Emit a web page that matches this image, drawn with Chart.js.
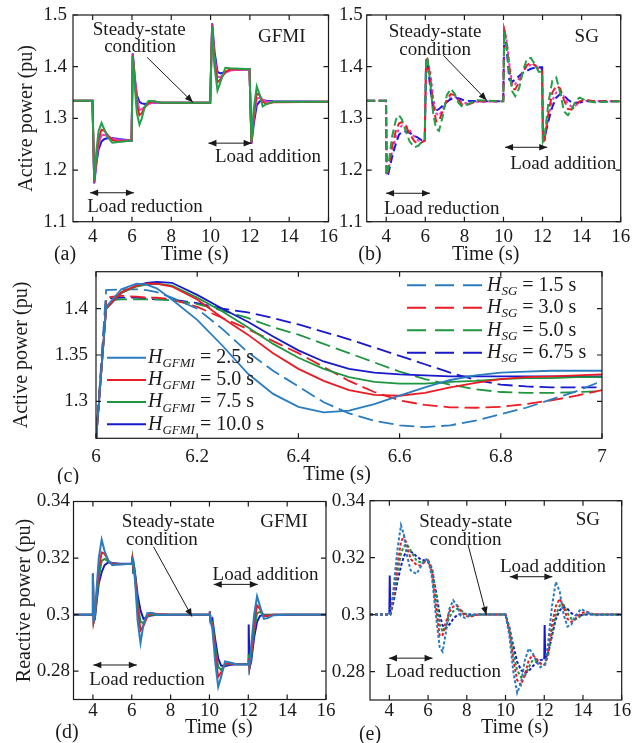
<!DOCTYPE html>
<html>
<head>
<meta charset="utf-8">
<script src="https://cdn.jsdelivr.net/npm/chart.js@4/dist/chart.umd.min.js"></script>
<style>
html, body { margin: 0; padding: 0; background: #fff; }
#page { position: relative; width: 641px; height: 743px; overflow: hidden; background: #fff; }
canvas { position: absolute; }
</style>
</head>
<body>
<div id="page">
  <canvas id="pa" width="345" height="268" style="left:0px;top:0px"></canvas>
  <canvas id="pb" width="321" height="268" style="left:320px;top:0px"></canvas>
  <canvas id="pc" width="641" height="222" style="left:0px;top:262px"></canvas>
  <canvas id="pd" width="345" height="259" style="left:0px;top:484px"></canvas>
  <canvas id="pe" width="321" height="259" style="left:320px;top:484px"></canvas>
</div>
<script>
'use strict';

// ---- tick labels ----
const timeTicks = [4, 6, 8, 10, 12, 14, 16];
const zoomTicks = [6, 6.2, 6.4, 6.6, 6.8, 7];
const activeTicks = [1.1, 1.2, 1.3, 1.4, 1.5];
const zoomActiveTicks = [1.3, 1.35, 1.4];
const reactiveTicks = [0.28, 0.3, 0.32, 0.34];

// ---- (a) GFMI active power ----
const timeA = [3, 3.99, 4.08, 4.2, 4.3, 4.45, 4.6, 4.8, 5.0, 5.3, 5.98, 6.04, 6.15, 6.25, 6.38, 6.5, 6.65, 6.85, 7.1, 7.5,
  9.98, 10.08, 10.2, 10.35, 10.5, 10.75, 11.0, 11.98, 12.08, 12.2, 12.35, 12.5, 12.65, 12.85, 13.2, 16];
const aGreen = [1.334, 1.334, 1.18, 1.24, 1.275, 1.291, 1.278, 1.262, 1.253, 1.254, 1.257, 1.42, 1.36, 1.31, 1.288, 1.30, 1.322, 1.334, 1.333, 1.33,
  1.33, 1.478, 1.40, 1.354, 1.37, 1.398, 1.397, 1.395, 1.255, 1.32, 1.362, 1.345, 1.323, 1.328, 1.332, 1.332];
const aRed = [1.334, 1.334, 1.178, 1.23, 1.26, 1.278, 1.276, 1.266, 1.258, 1.255, 1.257, 1.422, 1.37, 1.325, 1.306, 1.31, 1.322, 1.33, 1.333, 1.33,
  1.33, 1.48, 1.41, 1.37, 1.375, 1.39, 1.395, 1.395, 1.253, 1.31, 1.348, 1.345, 1.332, 1.328, 1.331, 1.332];
const aMagenta = [1.334, 1.334, 1.176, 1.22, 1.25, 1.267, 1.268, 1.264, 1.261, 1.258, 1.257, 1.424, 1.38, 1.34, 1.316, 1.318, 1.322, 1.328, 1.33, 1.33,
  1.33, 1.482, 1.42, 1.38, 1.38, 1.388, 1.393, 1.395, 1.252, 1.30, 1.338, 1.34, 1.336, 1.332, 1.332, 1.332];
const aBlue = [1.334, 1.334, 1.174, 1.215, 1.24, 1.255, 1.26, 1.262, 1.262, 1.26, 1.257, 1.426, 1.375, 1.345, 1.332, 1.329, 1.328, 1.329, 1.33, 1.33,
  1.33, 1.484, 1.43, 1.39, 1.387, 1.39, 1.393, 1.395, 1.251, 1.29, 1.325, 1.333, 1.335, 1.334, 1.333, 1.332];

// ---- (b) SG active power ----
const timeB = [3, 3.99, 4.02, 4.1, 4.3, 4.5, 4.65, 4.8, 5.0, 5.2, 5.45, 5.65, 5.8, 5.97,
  6.04, 6.1, 6.25, 6.4, 6.55, 6.7, 6.9, 7.1, 7.3, 7.5, 7.7, 7.9, 8.2, 8.6,
  9.99, 10.04, 10.15, 10.3, 10.45, 10.6, 10.8, 11.0, 11.2, 11.4, 11.6, 11.8, 11.98,
  12.02, 12.1, 12.3, 12.5, 12.7, 12.9, 13.1, 13.3, 13.5, 13.7, 13.9, 14.2, 14.6, 16];
const bGreen = [1.334, 1.334, 1.19, 1.205, 1.265, 1.298, 1.306, 1.298, 1.275, 1.255, 1.244, 1.247, 1.254, 1.26,
  1.415, 1.418, 1.37, 1.31, 1.28, 1.276, 1.305, 1.345, 1.357, 1.348, 1.33, 1.322, 1.328, 1.335,
  1.333, 1.468, 1.44, 1.39, 1.352, 1.343, 1.358, 1.392, 1.415, 1.417, 1.405, 1.39, 1.39,
  1.256, 1.265, 1.33, 1.373, 1.379, 1.35, 1.313, 1.306, 1.318, 1.335, 1.34, 1.335, 1.331, 1.333];
const bRed = [1.334, 1.334, 1.19, 1.2, 1.245, 1.278, 1.29, 1.293, 1.285, 1.27, 1.255, 1.251, 1.253, 1.257,
  1.413, 1.415, 1.38, 1.33, 1.294, 1.295, 1.315, 1.336, 1.347, 1.345, 1.335, 1.326, 1.327, 1.333,
  1.333, 1.47, 1.45, 1.4, 1.357, 1.356, 1.37, 1.39, 1.403, 1.408, 1.403, 1.395, 1.393,
  1.254, 1.258, 1.31, 1.35, 1.363, 1.358, 1.335, 1.318, 1.317, 1.325, 1.333, 1.336, 1.333, 1.333];
const bMagenta = [1.334, 1.334, 1.19, 1.197, 1.235, 1.265, 1.28, 1.286, 1.286, 1.277, 1.264, 1.257, 1.256, 1.257,
  1.412, 1.414, 1.39, 1.34, 1.31, 1.305, 1.318, 1.332, 1.34, 1.342, 1.337, 1.33, 1.329, 1.332,
  1.333, 1.471, 1.455, 1.405, 1.365, 1.366, 1.378, 1.392, 1.4, 1.403, 1.403, 1.398, 1.396,
  1.254, 1.256, 1.3, 1.335, 1.35, 1.354, 1.342, 1.328, 1.322, 1.325, 1.33, 1.334, 1.333, 1.333];
const bBlue = [1.334, 1.334, 1.189, 1.192, 1.225, 1.252, 1.268, 1.274, 1.275, 1.272, 1.266, 1.262, 1.258, 1.257,
  1.41, 1.412, 1.36, 1.318, 1.315, 1.318, 1.325, 1.332, 1.337, 1.339, 1.339, 1.336, 1.334, 1.333,
  1.333, 1.472, 1.44, 1.375, 1.371, 1.375, 1.382, 1.388, 1.392, 1.396, 1.398, 1.399, 1.399,
  1.258, 1.262, 1.295, 1.322, 1.34, 1.347, 1.344, 1.336, 1.331, 1.33, 1.331, 1.333, 1.333, 1.333];

// ---- (c) zoom on 6-7 s ----
const timeC = [6.0, 6.02, 6.05, 6.08, 6.1, 6.12, 6.15, 6.2, 6.25, 6.3, 6.35, 6.4, 6.45, 6.5, 6.55, 6.6,
  6.65, 6.7, 6.75, 6.8, 6.85, 6.9, 6.95, 7.0];
const hGfmi = ['2.5', '5.0', '7.5', '10.0'];
const hSg = ['1.5', '3.0', '5.0', '6.75'];
const cGfmi25 = [1.257, 1.402, 1.421, 1.427, 1.426, 1.422, 1.41, 1.388, 1.36, 1.33, 1.308, 1.294, 1.288, 1.29, 1.297, 1.306,
  1.315, 1.323, 1.328, 1.331, 1.332, 1.333, 1.333, 1.333];
const cGfmi50 = [1.257, 1.4, 1.418, 1.425, 1.427, 1.427, 1.424, 1.41, 1.39, 1.372, 1.352, 1.335, 1.322, 1.312, 1.307, 1.306,
  1.309, 1.315, 1.32, 1.324, 1.326, 1.327, 1.328, 1.329];
const cGfmi75 = [1.257, 1.4, 1.417, 1.424, 1.426, 1.427, 1.425, 1.412, 1.397, 1.38, 1.362, 1.347, 1.335, 1.326, 1.321, 1.319,
  1.319, 1.321, 1.322, 1.324, 1.325, 1.325, 1.326, 1.326];
const cGfmi100 = [1.257, 1.4, 1.417, 1.425, 1.428, 1.429, 1.428, 1.415, 1.4, 1.386, 1.37, 1.355, 1.343, 1.335, 1.331, 1.329,
  1.328, 1.327, 1.327, 1.327, 1.327, 1.327, 1.327, 1.327];
const cSg15 = [1.257, 1.42, 1.421, 1.421, 1.42, 1.418, 1.412, 1.40, 1.378, 1.353, 1.333, 1.316, 1.299, 1.287, 1.279, 1.274,
  1.272, 1.274, 1.279, 1.286, 1.293, 1.302, 1.311, 1.322];
const cSg30 = [1.257, 1.412, 1.414, 1.413, 1.412, 1.412, 1.41, 1.402, 1.39, 1.378, 1.365, 1.352, 1.337, 1.322, 1.31, 1.301,
  1.296, 1.2935, 1.293, 1.294, 1.297, 1.301, 1.306, 1.312];
const cSg50 = [1.257, 1.409, 1.41, 1.41, 1.41, 1.41, 1.409, 1.405, 1.398, 1.39, 1.38, 1.372, 1.362, 1.352, 1.342, 1.332,
  1.324, 1.318, 1.313, 1.31, 1.309, 1.309, 1.31, 1.311];
const cSg675 = [1.257, 1.411, 1.412, 1.412, 1.411, 1.41, 1.41, 1.406, 1.4, 1.396, 1.39, 1.383, 1.375, 1.367, 1.358, 1.349,
  1.34, 1.331, 1.323, 1.318, 1.316, 1.315, 1.315, 1.315];

// ---- (d) GFMI reactive power ----
const timeD = [3, 3.98, 4.0, 4.04, 4.1, 4.2, 4.3, 4.45, 4.6, 4.8, 5.0, 5.4, 6.0, 6.03, 6.08, 6.12, 6.2, 6.3, 6.45, 6.6,
  6.8, 7.0, 7.3, 8, 10.0, 10.02, 10.06, 10.15, 10.3, 10.45, 10.6, 10.8, 11.0, 11.4, 12.0, 12.02, 12.06, 12.15, 12.3, 12.45,
  12.6, 12.8, 13.0, 13.3, 14, 16];
const dSteel = [0.3, 0.3, 0.3145, 0.2975, 0.3, 0.31, 0.32, 0.3265, 0.3225, 0.319, 0.3175, 0.3178, 0.318, 0.319, 0.317, 0.316, 0.309, 0.298, 0.29, 0.2965,
  0.3005, 0.3007, 0.3, 0.3, 0.3, 0.3005, 0.2975, 0.295, 0.283, 0.2745, 0.278, 0.2835, 0.2832, 0.2825, 0.2825, 0.284, 0.282, 0.289, 0.3, 0.3065,
  0.303, 0.2985, 0.2988, 0.2998, 0.3, 0.3];
const dRed = [0.3, 0.3, 0.3145, 0.2975, 0.2995, 0.308, 0.316, 0.322, 0.3215, 0.319, 0.3178, 0.3178, 0.318, 0.3195, 0.3165, 0.3165, 0.311, 0.302, 0.2945, 0.296,
  0.2995, 0.3005, 0.3002, 0.3, 0.3, 0.3008, 0.2975, 0.2965, 0.286, 0.278, 0.2795, 0.2825, 0.2828, 0.2825, 0.2825, 0.2845, 0.2815, 0.2865, 0.297, 0.3033,
  0.302, 0.2995, 0.2995, 0.3, 0.3, 0.3];
const dGreen = [0.3, 0.3, 0.3145, 0.2975, 0.299, 0.3065, 0.313, 0.319, 0.3197, 0.3188, 0.318, 0.3178, 0.318, 0.3198, 0.316, 0.3168, 0.312, 0.304, 0.2975, 0.297,
  0.2993, 0.3, 0.3, 0.3, 0.3, 0.301, 0.2975, 0.2975, 0.2885, 0.2815, 0.2805, 0.2822, 0.2826, 0.2825, 0.2825, 0.286, 0.2815, 0.285, 0.2945, 0.3005,
  0.301, 0.2998, 0.2998, 0.3, 0.3, 0.3];
const dBlue = [0.3, 0.3, 0.3145, 0.2975, 0.2985, 0.305, 0.311, 0.315, 0.3175, 0.3185, 0.3183, 0.318, 0.318, 0.3205, 0.3145, 0.317, 0.313, 0.307, 0.3015, 0.2985,
  0.2993, 0.2997, 0.3, 0.3, 0.3, 0.3012, 0.2975, 0.2985, 0.291, 0.2845, 0.282, 0.2818, 0.2822, 0.2825, 0.2825, 0.2965, 0.281, 0.2835, 0.292, 0.2975,
  0.2995, 0.3, 0.3, 0.3, 0.3, 0.3];

// ---- (e) SG reactive power ----
const timeE = [3, 4.0, 4.02, 4.05, 4.2, 4.4, 4.6, 4.75, 4.9, 5.1, 5.4, 5.6, 5.8, 6.0, 6.2, 6.4, 6.6, 6.75, 6.9, 7.1,
  7.3, 7.5, 7.7, 7.9, 8.2, 8.6, 10.0, 10.2, 10.4, 10.6, 10.8, 11.0, 11.2, 11.4, 11.6, 11.8, 12.0, 12.02, 12.05, 12.2,
  12.4, 12.6, 12.8, 13.0, 13.2, 13.4, 13.6, 13.9, 14.2, 14.6, 16];
const eSteel = [0.3, 0.3, 0.3, 0.3, 0.308, 0.322, 0.3314, 0.328, 0.321, 0.3155, 0.3143, 0.3165, 0.3192, 0.3195, 0.313, 0.3, 0.2885, 0.287, 0.293, 0.302,
  0.305, 0.303, 0.2995, 0.2988, 0.2998, 0.3, 0.3, 0.2925, 0.28, 0.2725, 0.276, 0.284, 0.2881, 0.2865, 0.2835, 0.2815, 0.2825, 0.2825, 0.283, 0.29,
  0.303, 0.3115, 0.308, 0.3, 0.2958, 0.2965, 0.2995, 0.302, 0.3008, 0.2998, 0.3];
const eRed = [0.3, 0.3, 0.3, 0.3, 0.306, 0.317, 0.3255, 0.3277, 0.3245, 0.3195, 0.3175, 0.3172, 0.3183, 0.319, 0.315, 0.303, 0.2925, 0.2928, 0.297, 0.301,
  0.3028, 0.3032, 0.3012, 0.2995, 0.2993, 0.3, 0.3, 0.294, 0.284, 0.277, 0.2753, 0.279, 0.284, 0.2858, 0.2845, 0.2828, 0.2823, 0.2823, 0.2825, 0.287,
  0.2965, 0.303, 0.3056, 0.3025, 0.2985, 0.2974, 0.2985, 0.3005, 0.301, 0.3, 0.3];
const eGreen = [0.3, 0.3, 0.3, 0.3, 0.305, 0.314, 0.3215, 0.324, 0.3248, 0.3225, 0.319, 0.3184, 0.3186, 0.319, 0.3165, 0.307, 0.2965, 0.294, 0.2955, 0.299,
  0.3012, 0.302, 0.3015, 0.3003, 0.2996, 0.3, 0.3, 0.295, 0.2865, 0.2805, 0.278, 0.2785, 0.2815, 0.284, 0.2838, 0.2829, 0.2826, 0.2826, 0.2828, 0.2855,
  0.2935, 0.3, 0.3032, 0.3035, 0.3005, 0.2985, 0.2982, 0.2995, 0.3005, 0.3, 0.3];
const eBlue = [0.3, 0.3, 0.3137, 0.3, 0.304, 0.311, 0.317, 0.3205, 0.3225, 0.3222, 0.3205, 0.3195, 0.319, 0.3185, 0.316, 0.3085, 0.3, 0.2962, 0.2951, 0.2965,
  0.2985, 0.2998, 0.3003, 0.3003, 0.3, 0.3, 0.3, 0.2955, 0.289, 0.2835, 0.2805, 0.2794, 0.2802, 0.2818, 0.2832, 0.284, 0.2843, 0.2963, 0.2845, 0.2865,
  0.2925, 0.2985, 0.3015, 0.3027, 0.302, 0.3005, 0.2998, 0.2998, 0.3, 0.3, 0.3];

// ---- look ----
const serif = '"Liberation Serif", "Times New Roman", serif';
const ink = '#1a1a1a';
const green = '#22a04a';
const red = '#ec1c24';
const magenta = '#f03cc8';
const blue = '#1a1ae6';
const steel = '#2a7cc0';
const cGreen = '#1e9640';
const navy = '#1818cc';

const decoById = {};

const pts = (xs, ys) => xs.map((x, i) => ({x: x, y: ys[i]}));

const arrowHead = (ctx, x1, y1, x2, y2) => {
    const ang = Math.atan2(y2 - y1, x2 - x1);
    const len = 8;
    const half = 3.3;
    ctx.beginPath();
    ctx.moveTo(x2, y2);
    ctx.lineTo(x2 - len * Math.cos(ang) + half * Math.sin(ang), y2 - len * Math.sin(ang) - half * Math.cos(ang));
    ctx.lineTo(x2 - len * Math.cos(ang) - half * Math.sin(ang), y2 - len * Math.sin(ang) + half * Math.cos(ang));
    ctx.closePath();
    ctx.fill();
};

// Box, inward ticks, notes, x title, panel tag and the in-plot legends.
const decoPlugin = {
    id: 'deco',
    afterDatasetsDraw(chart) {
        const d = decoById[chart.canvas.id];
        const {ctx, chartArea: a} = chart;
        const xs = chart.scales.x;
        const ys = chart.scales.y;
        ctx.save();
        ctx.setLineDash([]);
        ctx.strokeStyle = ink;
        ctx.fillStyle = ink;
        ctx.lineWidth = 1.2;
        ctx.strokeRect(a.left, a.top, a.right - a.left, a.bottom - a.top);
        ctx.beginPath();
        xs.ticks.forEach((t) => {
            const p = xs.getPixelForValue(t.value);
            ctx.moveTo(p, a.bottom); ctx.lineTo(p, a.bottom - 5);
            ctx.moveTo(p, a.top); ctx.lineTo(p, a.top + 5);
        });
        ys.ticks.forEach((t) => {
            const p = ys.getPixelForValue(t.value);
            ctx.moveTo(a.left, p); ctx.lineTo(a.left + 5, p);
            ctx.moveTo(a.right, p); ctx.lineTo(a.right - 5, p);
        });
        ctx.stroke();

        ctx.font = '19px ' + serif;
        ctx.textAlign = 'center';
        ctx.textBaseline = 'middle';
        ctx.lineWidth = 1;
        (d.notes || []).forEach((n) => {
            if (n.text) {
                ctx.fillText(n.text, xs.getPixelForValue(n.x), ys.getPixelForValue(n.y));
                return;
            }
            const x1 = xs.getPixelForValue(n.from[0]);
            const y1 = ys.getPixelForValue(n.from[1]);
            const x2 = xs.getPixelForValue(n.to[0]);
            const y2 = ys.getPixelForValue(n.to[1]);
            ctx.beginPath();
            ctx.moveTo(x1, y1);
            ctx.lineTo(x2, y2);
            ctx.stroke();
            arrowHead(ctx, x1, y1, x2, y2);
            if (n.both) {
                arrowHead(ctx, x2, y2, x1, y1);
            }
        });

        ctx.font = '20px ' + serif;
        ctx.fillText('Time (s)', (a.left + a.right) / 2 + d.title[0], a.bottom + d.title[1]);
        ctx.fillText(d.tag[0], a.left + d.tag[1], a.bottom + d.tag[2]);

        (d.legends || []).forEach((lg) => {
            lg.rows.forEach((r, i) => {
                const yy = a.top + lg.y0 + i * lg.gap;
                ctx.strokeStyle = r.color;
                ctx.lineWidth = 2;
                ctx.setLineDash(lg.dash);
                ctx.beginPath();
                ctx.moveTo(a.left + lg.x1, yy);
                ctx.lineTo(a.left + lg.x2, yy);
                ctx.stroke();
                ctx.setLineDash([]);
                ctx.textAlign = 'left';
                let tx = a.left + lg.tx;
                ctx.font = 'italic 20px ' + serif;
                ctx.fillText('H', tx, yy);
                tx += ctx.measureText('H').width;
                ctx.font = 'italic 13px ' + serif;
                ctx.fillText(lg.sub, tx, yy + 6);
                tx += ctx.measureText(lg.sub).width;
                ctx.font = '20px ' + serif;
                ctx.fillText(' = ' + r.h + ' s', tx, yy);
            });
        });
        ctx.restore();
    },
};

const buildPanel = (id, p) => {
    decoById[id] = p.deco;
    const tickFont = {family: serif, size: 19};
    return new Chart(document.getElementById(id), {
        type: 'line',
        data: {
            datasets: p.series.map((s) => ({
                data: pts(p.time, s.values),
                borderColor: s.color,
                borderWidth: s.width || 2,
                borderDash: s.dash || [],
                pointRadius: 0,
                tension: 0,
                fill: false,
                segment: s.segment,
            })),
        },
        options: {
            responsive: false,
            animation: false,
            events: [],
            layout: {padding: p.pad},
            plugins: {legend: {display: false}, tooltip: {enabled: false}},
            scales: {
                x: {
                    type: 'linear',
                    min: p.xRange[0],
                    max: p.xRange[1],
                    grid: {display: false, drawTicks: false},
                    border: {display: false},
                    ticks: {padding: p.xTickPad, font: tickFont, color: ink, maxRotation: 0, autoSkip: false,
                        callback: (v) => String(v)},
                    afterBuildTicks: (sc) => {
                        sc.ticks = p.xTicks.map((v) => ({value: v}));
                    },
                    afterFit: (sc) => {
                        sc.height = p.xHeight;
                        sc.paddingLeft = 0;
                        sc.paddingRight = 0;
                    },
                },
                y: {
                    type: 'linear',
                    min: p.yRange[0],
                    max: p.yRange[1],
                    grid: {display: false, drawTicks: false},
                    border: {display: false},
                    ticks: {padding: p.yTickPad, font: tickFont, color: ink, autoSkip: false,
                        callback: (v) => String(v)},
                    title: {
                        display: !!p.yTitle,
                        text: p.yTitle || '',
                        color: ink,
                        font: {family: serif, size: 20},
                        padding: {top: p.yTitlePad || 0, bottom: 0},
                    },
                    afterBuildTicks: (sc) => {
                        sc.ticks = p.yTicks.map((v) => ({value: v}));
                    },
                    afterFit: (sc) => {
                        sc.width = p.yWidth;
                        sc.paddingTop = 0;
                        sc.paddingBottom = 0;
                    },
                },
            },
        },
        plugins: [decoPlugin],
    });
};

const spikeSolid = {borderDash: (c) => (c.p1.parsed.x - c.p0.parsed.x < 0.04 ? [] : undefined)};

buildPanel('pa', {
    time: timeA,
    series: [
        {values: aGreen, color: green},
        {values: aRed, color: red},
        {values: aMagenta, color: magenta},
        {values: aBlue, color: blue},
    ],
    xRange: [3, 16], yRange: [1.1, 1.5], xTicks: timeTicks, yTicks: activeTicks,
    pad: {left: 0, top: 15, right: 16.5, bottom: 0},
    yWidth: 73, xHeight: 46.3, xTickPad: 4, yTickPad: 6,
    yTitle: 'Active power (pu)', yTitlePad: 15,
    deco: {
        title: [-6, 33.3], tag: ['(a)', -8, 33.3],
        notes: [
            {text: 'Steady-state', x: 6.37, y: 1.471},
            {text: 'condition', x: 6.41, y: 1.438},
            {from: [6.77, 1.418], to: [9.1, 1.331]},
            {text: 'GFMI', x: 13.62, y: 1.458},
            {text: 'Load addition', x: 12.92, y: 1.225},
            {from: [9.89, 1.252], to: [12.09, 1.252], both: true},
            {text: 'Load reduction', x: 6.66, y: 1.128},
            {from: [3.87, 1.156], to: [6.1, 1.156], both: true},
        ],
    },
});

buildPanel('pb', {
    time: timeB,
    series: [
        {values: bGreen, color: green, dash: [8, 4]},
        {values: bRed, color: red, dash: [8, 4]},
        {values: bBlue, color: blue, dash: [8, 4]},
        {values: bMagenta, color: magenta, dash: [3, 3]},
    ],
    xRange: [3, 16], yRange: [1.1, 1.5], xTicks: timeTicks, yTicks: activeTicks,
    pad: {left: 0, top: 15, right: 20.3, bottom: 0},
    yWidth: 46.7, xHeight: 46.3, xTickPad: 4, yTickPad: 4,
    deco: {
        title: [-8, 33.3], tag: ['(b)', 3.3, 33.3],
        notes: [
            {text: 'Steady-state', x: 6.5, y: 1.4676},
            {text: 'condition', x: 6.5, y: 1.432},
            {from: [6.92, 1.422], to: [9.14, 1.335]},
            {text: 'SG', x: 14.26, y: 1.458},
            {text: 'Load addition', x: 13.06, y: 1.212},
            {from: [10.08, 1.244], to: [12.24, 1.244], both: true},
            {text: 'Load reduction', x: 6.84, y: 1.125},
            {from: [3.99, 1.155], to: [6.24, 1.155], both: true},
        ],
    },
});

const gfmiColors = [steel, red, cGreen, navy];
buildPanel('pc', {
    time: timeC,
    series: [
        {values: cGfmi25, color: steel, width: 1.8},
        {values: cGfmi50, color: red, width: 1.8},
        {values: cGfmi75, color: cGreen, width: 1.8},
        {values: cGfmi100, color: navy, width: 1.8},
        {values: cSg15, color: steel, width: 1.8, dash: [15, 6]},
        {values: cSg30, color: red, width: 1.8, dash: [15, 6]},
        {values: cSg50, color: cGreen, width: 1.8, dash: [15, 6]},
        {values: cSg675, color: navy, width: 1.8, dash: [15, 6]},
    ],
    xRange: [6, 7], yRange: [1.26, 1.44], xTicks: zoomTicks, yTicks: zoomActiveTicks,
    pad: {left: 0, top: 9.7, right: 39, bottom: 0},
    yWidth: 96, xHeight: 45.7, xTickPad: 7, yTickPad: 8,
    yTitle: 'Active power (pu)', yTitlePad: 10,
    deco: {
        title: [-12, 36.7], tag: ['(c)', -28, 38.7],
        legends: [
            {sub: 'GFMI', x1: 11, x2: 50, tx: 52, y0: 86, gap: 22.2, dash: [],
                rows: hGfmi.map((h, i) => ({h: h, color: gfmiColors[i]}))},
            {sub: 'SG', x1: 311, x2: 386, tx: 391, y0: 13.6, gap: 22.5, dash: [19, 9],
                rows: hSg.map((h, i) => ({h: h, color: gfmiColors[i]}))},
        ],
    },
});

buildPanel('pd', {
    time: timeD,
    series: [
        {values: dSteel, color: steel},
        {values: dRed, color: red},
        {values: dGreen, color: cGreen},
        {values: dBlue, color: navy},
    ],
    xRange: [3, 16], yRange: [0.27, 0.34], xTicks: timeTicks, yTicks: reactiveTicks,
    pad: {left: 0, top: 17.5, right: 19, bottom: 0},
    yWidth: 73.5, xHeight: 43.5, xTickPad: 0, yTickPad: 3.5,
    yTitle: 'Reactive power (pu)', yTitlePad: 13,
    deco: {
        title: [19, 28.5], tag: ['(d)', -6.5, 33.5],
        notes: [
            {text: 'Steady-state', x: 7.88, y: 0.3329},
            {text: 'condition', x: 7.55, y: 0.3264},
            {from: [7.12, 0.324], to: [9.1, 0.2993]},
            {text: 'GFMI', x: 13.84, y: 0.3329},
            {text: 'Load addition', x: 12.89, y: 0.314},
            {from: [10.22, 0.3107], to: [12.49, 0.3107], both: true},
            {text: 'Load reduction', x: 6.78, y: 0.2769},
            {from: [4.02, 0.2822], to: [6.26, 0.2822], both: true},
        ],
    },
});

buildPanel('pe', {
    time: timeE,
    series: [
        {values: eSteel, color: steel, dash: [3, 2]},
        {values: eRed, color: red, dash: [3, 2]},
        {values: eGreen, color: cGreen, dash: [3, 2]},
        {values: eBlue, color: navy, dash: [3, 2], segment: spikeSolid},
    ],
    xRange: [3, 16], yRange: [0.27, 0.34], xTicks: timeTicks, yTicks: reactiveTicks,
    pad: {left: 0, top: 16.7, right: 19.3, bottom: 0},
    yWidth: 50, xHeight: 43, xTickPad: 0, yTickPad: 5,
    deco: {
        title: [19, 28], tag: ['(e)', 0, 35],
        notes: [
            {text: 'Steady-state', x: 7.94, y: 0.3326},
            {text: 'condition', x: 7.94, y: 0.3262},
            {from: [8.07, 0.3244], to: [9.01, 0.2999]},
            {text: 'SG', x: 14.25, y: 0.3332},
            {text: 'Load addition', x: 12.45, y: 0.3168},
            {from: [10.22, 0.3133], to: [12.42, 0.3133], both: true},
            {text: 'Load reduction', x: 6.78, y: 0.28},
            {from: [3.98, 0.2847], to: [6.23, 0.2847], both: true},
        ],
    },
});
</script>
</body>
</html>
